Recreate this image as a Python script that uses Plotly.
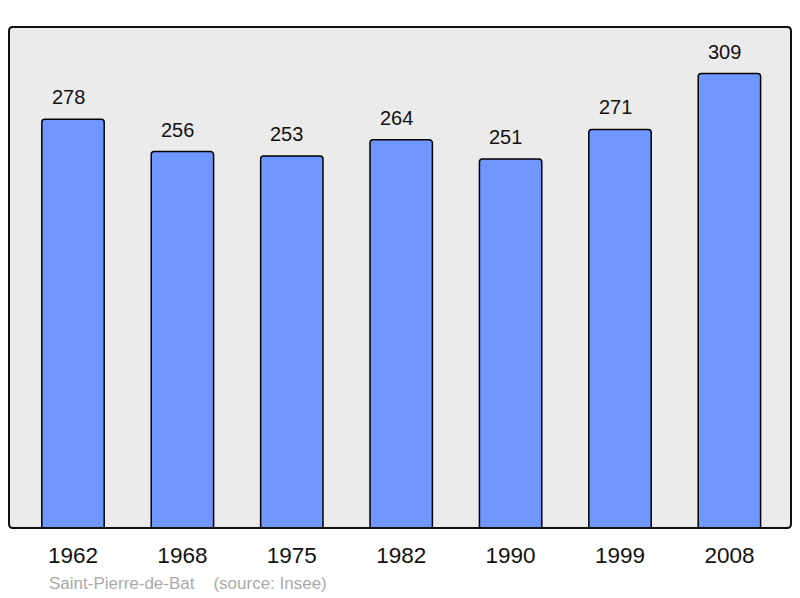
import plotly.graph_objects as go

years = ["1962", "1968", "1975", "1982", "1990", "1999", "2008"]
population = [278, 256, 253, 264, 251, 271, 309]
caption = "Saint-Pierre-de-Bat    (source: Insee)"

xpos = list(range(len(years)))

fig = go.Figure()
fig.add_trace(go.Bar(
    x=xpos, y=population, width=0.57,
    marker=dict(color="#7096ff", line=dict(color="#000000", width=1.5), cornerradius=3),
    hoverinfo="skip",
))

for x, v in zip(xpos, population):
    fig.add_annotation(x=x, y=v, text=str(v), showarrow=False, yanchor="bottom",
                       yshift=9, xshift=-5, font=dict(size=20, color="#111111",
                                           family="Liberation Sans, Arial, sans-serif"))

fig.add_annotation(xref="paper", yref="paper", x=(47 - 9) / 782, y=-0.11,
                   xanchor="left", yanchor="middle", text=caption, showarrow=False,
                   font=dict(size=17, color="#aaaaaa", family="Liberation Sans, Arial, sans-serif"))

# rounded frame around the plot area (paper coords, ~4px radius)
rx, ry = 4 / 782, 4 / 501
frame = (f"M {rx},0 L {1-rx},0 Q 1,0 1,{ry} L 1,{1-ry} Q 1,1 {1-rx},1 "
         f"L {rx},1 Q 0,1 0,{1-ry} L 0,{ry} Q 0,0 {rx},0 Z")
fig.add_shape(type="path", xref="paper", yref="paper", path=frame,
              line=dict(color="#111111", width=2), layer="above")

fig.update_layout(
    width=792, height=590,
    margin=dict(l=1, r=9, t=19, b=70),
    paper_bgcolor="#ffffff", plot_bgcolor="#ebebeb",
    showlegend=False,
    font=dict(family="Liberation Sans, Arial, sans-serif", color="#111111"),
    xaxis=dict(range=[-0.585, 6.563], tickvals=xpos, ticktext=years, showgrid=False,
               zeroline=False, showline=False, ticks="", tickfont=dict(size=22.5),
               ticklabelstandoff=11),
    yaxis=dict(range=[0, 340.7], showgrid=False, zeroline=False, showticklabels=False,
               ticks="", showline=False),
)

fig.write_html("out.html")
